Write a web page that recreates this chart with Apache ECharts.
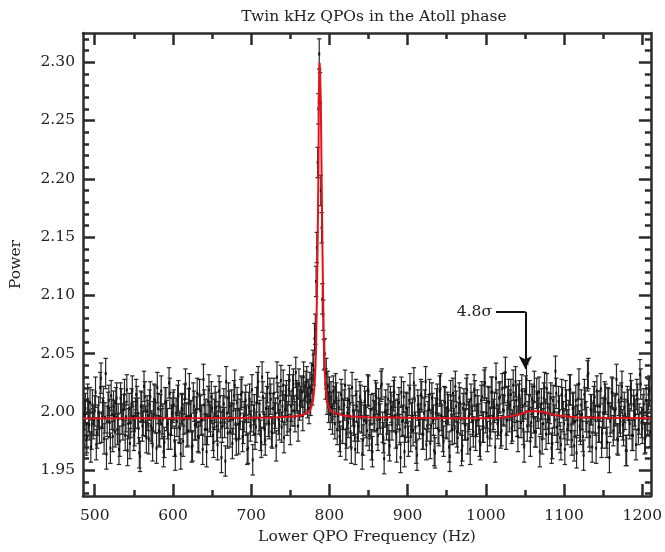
<!DOCTYPE html>
<html lang="en">

<head>
    <meta charset="UTF-8">
    <title>Twin kHz QPOs</title>
    <script src="https://cdn.jsdelivr.net/npm/echarts@6.0.0/dist/echarts.min.js"></script>
    <style>
        body { margin: 0; background: #fff; }
        #chart { width: 665px; height: 552px; }
    </style>
</head>

<body>
    <div id="chart"></div>
    <script>
        // tick positions
        var xTicks = [500, 600, 700, 800, 900, 1000, 1100, 1200];
        var xMinor = [550, 650, 750, 850, 950, 1050, 1150];
        var yTicks = [1.95, 2.00, 2.05, 2.10, 2.15, 2.20, 2.25, 2.30];
        var yMinor = [1.93, 1.94, 1.96, 1.97, 1.98, 1.99, 2.01, 2.02, 2.03, 2.04, 2.06, 2.07, 2.08, 2.09,
            2.11, 2.12, 2.13, 2.14, 2.16, 2.17, 2.18, 2.19, 2.21, 2.22, 2.23, 2.24, 2.26, 2.27, 2.28, 2.29, 2.31, 2.32];

        // measured power, chunks with their own start and bin step
        var leftStart = 486, leftStep = 2;
        var leftPower = [
            1.985, 2.003, 1.978, 1.996, 2.008, 1.981, 1.990, 2.001, 1.972, 1.993,
            1.986, 2.029, 1.999, 1.977, 2.033, 1.992, 2.010, 1.969, 1.998, 2.005,
            1.983, 2.012, 1.994, 1.975, 2.007, 1.989, 2.015, 1.996, 1.967, 2.003,
            1.991, 2.018, 1.980, 1.999, 2.009, 1.986, 1.962, 2.004, 1.993, 2.013,
            1.978, 1.997, 2.006, 1.988, 1.971, 2.011, 1.995, 2.021, 1.984, 2.002,
            1.990, 1.966, 2.008, 1.997, 1.981, 2.016, 1.993, 2.004, 1.975, 1.999,
            2.010, 1.987, 1.964, 2.002, 1.994, 2.024, 1.983, 2.007, 1.996, 1.970,
            2.012, 1.989, 2.000, 1.979, 2.015, 1.993, 1.968, 2.006, 1.998, 1.985,
            2.019, 1.992, 2.003, 1.974, 2.009, 1.988, 1.996, 2.013, 1.961, 2.001,
            1.991, 2.026, 1.982, 2.005, 1.995, 1.973, 2.014, 1.990, 2.008, 1.977,
            1.998, 2.017, 1.986, 2.004, 1.993, 1.969, 2.011, 1.996, 1.959, 2.002,
            1.987, 2.021, 1.994, 1.980, 2.030, 1.999, 1.976, 2.009, 1.992, 2.016,
            1.983, 2.003, 1.995, 1.971, 2.012, 1.989, 2.027, 2.005, 1.978, 2.010,
            1.993, 2.019, 1.985, 2.001, 2.024, 1.996, 2.014, 1.988, 2.006, 2.018,
            1.997, 2.011, 2.022, 2.008
        ];
        var leftOddStart = 487, leftOddStep = 2;
        var leftOddPower = [
            1.998, 1.976, 2.011, 1.989, 1.970, 2.006, 1.993, 2.017, 1.982, 2.000,
            2.021, 1.987, 2.009, 1.995, 1.964, 2.004, 1.991, 2.014, 1.979, 1.997,
            2.008, 1.985, 1.968, 2.012, 1.994, 2.002, 1.980, 2.019, 1.990, 1.973,
            2.007, 1.996, 1.984, 2.015, 1.999, 1.965, 2.005, 1.988, 2.022, 1.992,
            2.001, 1.977, 2.013, 1.986, 1.996, 2.010, 1.969, 2.003, 1.983, 2.018,
            1.994, 1.974, 2.008, 1.990, 2.025, 1.981, 1.999, 2.006, 1.963, 1.992,
            2.014, 1.986, 2.003, 1.975, 2.011, 1.995, 1.984, 2.020, 1.997, 1.971,
            2.005, 1.989, 2.016, 1.978, 2.001, 1.993, 2.028, 1.985, 1.966, 2.009,
            1.996, 2.013, 1.980, 1.998, 2.004, 1.972, 2.018, 1.991, 1.987, 2.007,
            1.958, 1.999, 2.012, 1.983, 2.006, 1.994, 2.023, 1.976, 2.002, 1.990,
            2.015, 1.979, 1.996, 2.010, 1.968, 2.004, 1.988, 2.019, 1.993, 1.981,
            2.008, 2.026, 1.997, 1.974, 2.013, 1.985, 2.003, 2.021, 1.990, 2.011,
            1.982, 2.016, 1.999, 2.030, 1.994, 2.009, 1.987, 2.023, 2.002, 2.014,
            1.996, 2.027, 2.005, 2.019, 2.001, 2.034, 2.012, 2.024, 2.009, 2.017,
            2.030, 2.013, 2.026
        ];
        var peakStart = 773, peakStep = 1;
        var peakPower = [
            2.015, 2.003, 2.021, 2.010, 2.029, 2.019, 2.040, 2.036, 2.063, 2.071,
            2.112, 2.141, 2.214, 2.260, 2.307, 2.278, 2.190, 2.158, 2.097, 2.083,
            2.049, 2.050, 2.024, 2.033, 2.011, 2.022, 2.004, 2.017, 1.998
        ];
        var rightStart = 802, rightStep = 2;
        var rightPower = [
            2.013, 1.994, 2.009, 2.020, 1.985, 2.004, 1.975, 2.011, 1.998, 2.023,
            1.982, 1.991, 2.007, 1.969, 2.001, 1.988, 2.015, 1.978, 1.996, 2.010,
            1.964, 1.993, 2.005, 1.984, 2.018, 1.990, 1.972, 2.003, 1.996, 2.012,
            1.980, 1.999, 2.022, 1.987, 1.960, 2.006, 1.994, 1.976, 2.009, 1.989,
            2.014, 1.997, 1.970, 2.002, 1.985, 2.017, 1.993, 1.966, 2.004, 1.991,
            2.010, 1.979, 1.998, 2.025, 1.987, 1.963, 2.001, 1.994, 2.013, 1.981,
            2.006, 1.972, 1.996, 2.015, 1.988, 2.003, 1.967, 1.999, 2.011, 1.984,
            2.020, 1.993, 1.975, 2.008, 1.990, 2.002, 1.962, 1.997, 2.016, 1.986,
            2.005, 1.978, 2.012, 1.994, 1.971, 2.007, 1.989, 2.019, 1.996, 1.968,
            2.004, 1.983, 2.014, 1.992, 2.001, 1.975, 2.010, 1.987, 2.023, 1.995,
            1.979, 2.008, 1.990, 2.017, 1.998, 1.970, 2.006, 1.993, 2.013, 1.984,
            2.002, 2.021, 1.981, 2.009, 1.996, 2.015, 1.988, 2.004, 2.026, 1.992,
            2.011, 1.999, 2.019, 1.985, 2.007, 2.028, 1.996, 2.014, 1.991, 2.009,
            2.022, 1.983, 2.005, 2.017, 1.994, 1.977, 2.012, 1.998, 2.020, 1.986,
            2.003, 1.969, 2.010, 1.993, 2.016, 1.981, 2.001, 1.972, 2.008, 1.990,
            2.014, 1.985, 1.997, 2.019, 1.976, 2.004, 1.992, 1.965, 2.011, 1.988,
            2.006, 1.979, 2.015, 1.996, 2.031, 1.983, 2.002, 1.970, 2.009, 1.993,
            2.018, 1.987, 2.005, 1.974, 1.999, 2.013, 1.982, 2.008, 1.961, 1.995,
            2.016, 1.989, 2.003, 1.977, 2.010, 1.992, 2.022, 1.984, 1.998, 1.967,
            2.006, 1.990, 2.014, 1.980, 2.001, 1.972, 2.011, 1.994, 2.024, 1.986,
            2.007, 1.978, 1.997, 2.015, 1.983
        ];
        var rightOddStart = 803, rightOddStep = 2;
        var rightOddPower = [
            2.004, 2.018, 1.990, 2.012, 1.997, 1.979, 2.015, 1.986, 2.006, 1.972,
            1.999, 2.010, 1.983, 2.021, 1.993, 1.968, 2.005, 1.988, 2.013, 1.995,
            1.976, 2.009, 1.991, 2.019, 1.980, 2.002, 1.966, 1.997, 2.014, 1.985,
            2.007, 1.994, 2.024, 1.978, 2.000, 1.989, 2.011, 1.971, 2.004, 1.996,
            2.017, 1.982, 1.998, 2.008, 1.961, 1.992, 2.013, 1.987, 2.003, 1.975,
            2.020, 1.995, 1.984, 2.010, 1.969, 2.006, 1.990, 2.015, 1.981, 1.999,
            2.026, 1.988, 2.002, 1.973, 2.012, 1.993, 1.965, 2.007, 1.986, 2.018,
            1.997, 1.979, 2.009, 1.991, 2.004, 1.970, 2.014, 1.985, 2.001, 2.022,
            1.983, 1.995, 2.008, 1.967, 2.003, 1.989, 2.016, 1.977, 1.998, 2.011,
            1.992, 2.019, 1.980, 2.006, 1.994, 1.972, 2.013, 1.987, 2.025, 1.999,
            2.009, 1.984, 2.017, 1.996, 2.004, 2.029, 1.990, 2.012, 1.982, 2.020,
            2.001, 2.034, 1.993, 2.015, 2.006, 1.986, 2.023, 1.997, 2.010, 1.979,
            2.014, 1.991, 2.005, 1.970, 2.018, 1.988, 2.002, 1.975, 2.011, 1.995,
            1.983, 2.016, 1.999, 1.966, 2.007, 1.990, 2.021, 1.981, 2.004, 1.994,
            2.012, 1.973, 2.000, 2.035, 1.987, 2.009, 1.978, 2.015, 1.996, 1.968,
            2.006, 1.989, 2.019, 1.983, 2.003, 1.971, 2.010, 1.993, 2.024, 1.985,
            1.998, 1.963, 2.008, 1.991, 2.033, 1.979, 2.002, 1.995, 2.013, 1.969,
            2.005, 1.987, 2.020, 1.982, 1.999, 2.011, 1.974, 2.007, 1.992, 2.017,
            1.984, 2.001, 2.028, 1.976, 1.995, 2.012, 1.989, 2.004, 1.967, 2.009,
            1.993, 2.020, 1.980, 2.006, 1.998, 2.015, 1.985, 2.032, 1.991, 2.002,
            1.977, 2.010, 1.994, 2.018
        ];
        var powerErr = 0.013;

        // fitted model (two Lorentzians on a flat level)
        var modelFreq = [485, 550, 600, 650, 700, 727, 737, 747, 757, 762, 767, 769, 771, 773, 774, 775, 776,
            777, 778, 779, 780, 781, 782, 783, 784, 785, 786, 786.5, 787, 787.5, 788, 789, 790, 791, 792, 793,
            794, 795, 796, 797, 798, 799, 800, 801, 803, 805, 807, 812, 817, 827, 847, 900, 950, 1000,
            1010, 1020, 1030, 1040, 1048, 1054, 1060, 1068, 1078, 1088, 1100, 1115, 1150, 1211];
        var modelPower = [1.9945, 1.9946, 1.9947, 1.9948, 1.9950, 1.9953, 1.9955, 1.9959, 1.9964, 1.9969,
            1.9977, 1.9983, 1.9990, 2.0001, 2.0008, 2.0017, 2.0027, 2.0043, 2.0065, 2.0098, 2.0149, 2.0227,
            2.0355, 2.0573, 2.0975, 2.1470, 2.2060, 2.2680, 2.2930, 2.2995, 2.2930, 2.2680, 2.2060, 2.1470,
            2.0975, 2.0573, 2.0355, 2.0227, 2.0149, 2.0098, 2.0065, 2.0043, 2.0027, 2.0017, 2.0008, 1.9997,
            1.9988, 1.9982, 1.9971, 1.9964, 1.9956, 1.9950, 1.9947, 1.9946, 1.9948, 1.9953, 1.9961, 1.9974,
            1.9992, 2.0004, 2.0008, 2.0005, 1.9993, 1.9975, 1.9963, 1.9955, 1.9950, 1.9947, 1.9946];

        // annotation for the weak upper peak
        var sigmaText = '4.8σ';
        var arrowStart = [1013, 2.086];
        var arrowCorner = [1050.5, 2.086];
        var arrowTip = [1050.5, 2.037];

        var points = [];
        function addChunk(start, step, arr) {
            for (var i = 0; i < arr.length; i++) {
                points.push([start + i * step, arr[i], powerErr]);
            }
        }
        addChunk(leftStart, leftStep, leftPower);
        addChunk(leftOddStart, leftOddStep, leftOddPower);
        addChunk(peakStart, peakStep, peakPower);
        addChunk(rightStart, rightStep, rightPower);
        addChunk(rightOddStart, rightOddStep, rightOddPower);

        var modelData = modelFreq.map(function (f, i) { return [f, modelPower[i]]; });

        var font = 'DejaVu Serif';
        var ink = '#2b2b2b';

        function xAxisOf(pos, ticks, len, showLine, showLabel) {
            return {
                type: 'value', gridIndex: 0, position: pos, min: 485, max: 1211,
                axisLine: { show: showLine, onZero: false, lineStyle: { color: ink, width: 2.5 } },
                axisTick: { show: true, inside: true, length: len, customValues: ticks, lineStyle: { color: ink, width: 2.5 } },
                axisLabel: showLabel ? {
                    customValues: xTicks, color: '#222', fontFamily: font, fontSize: 15.5, margin: 12,
                    formatter: function (v) { return String(v); }
                } : { show: false },
                splitLine: { show: false }
            };
        }
        function yAxisOf(pos, ticks, len, showLine, showLabel) {
            return {
                type: 'value', gridIndex: 0, position: pos, min: 1.928, max: 2.325,
                axisLine: { show: showLine, onZero: false, lineStyle: { color: ink, width: 2.5 } },
                axisTick: { show: true, inside: true, length: len, customValues: ticks, lineStyle: { color: ink, width: 2.5 } },
                axisLabel: showLabel ? {
                    customValues: yTicks, color: '#222', fontFamily: font, fontSize: 15.5, margin: 8,
                    formatter: function (v) { return v.toFixed(2); }
                } : { show: false },
                splitLine: { show: false }
            };
        }

        var xMain = xAxisOf('bottom', xTicks, 12, true, true);
        xMain.name = 'Lower QPO Frequency (Hz)';
        xMain.nameLocation = 'middle';
        xMain.nameGap = 32;
        xMain.nameTextStyle = { color: '#222', fontFamily: font, fontSize: 15.5 };
        var yMain = yAxisOf('left', yTicks, 12, true, true);
        yMain.name = 'Power';
        yMain.nameLocation = 'middle';
        yMain.nameGap = 59;
        yMain.nameTextStyle = { color: '#222', fontFamily: font, fontSize: 15.5 };

        var chart = echarts.init(document.getElementById('chart'));
        chart.setOption({
            backgroundColor: '#fff',
            animation: false,
            title: {
                text: 'Twin kHz QPOs in the Atoll phase',
                left: 369,
                textAlign: 'center',
                top: 4,
                textStyle: { color: '#222', fontFamily: font, fontSize: 15.5, fontWeight: 'normal' }
            },
            grid: { left: 83, top: 33, width: 572, height: 463 },
            xAxis: [
                xMain,
                xAxisOf('top', xTicks, 12, true, false),
                xAxisOf('bottom', xMinor, 6, false, false),
                xAxisOf('top', xMinor, 6, false, false)
            ],
            yAxis: [
                yMain,
                yAxisOf('right', yTicks, 12, true, false),
                yAxisOf('left', yMinor, 6, false, false),
                yAxisOf('right', yMinor, 6, false, false)
            ],
            series: [
                {
                    type: 'custom',
                    xAxisIndex: 0,
                    yAxisIndex: 0,
                    clip: true,
                    data: points,
                    renderItem: function (params, api) {
                        var f = api.value(0), p = api.value(1), e = api.value(2);
                        var hi = api.coord([f, p + e]);
                        var lo = api.coord([f, p - e]);
                        var mid = api.coord([f, p]);
                        var st = { stroke: '#262626', lineWidth: 1.2 };
                        return {
                            type: 'group',
                            children: [
                                { type: 'line', shape: { x1: hi[0], y1: hi[1], x2: lo[0], y2: lo[1] }, style: st },
                                { type: 'line', shape: { x1: hi[0] - 2.2, y1: hi[1], x2: hi[0] + 2.2, y2: hi[1] }, style: st },
                                { type: 'line', shape: { x1: lo[0] - 2.2, y1: lo[1], x2: lo[0] + 2.2, y2: lo[1] }, style: st },
                                { type: 'rect', shape: { x: mid[0] - 1, y: mid[1] - 1.5, width: 2, height: 3 }, style: { fill: '#111' } }
                            ]
                        };
                    }
                },
                {
                    type: 'line',
                    xAxisIndex: 0,
                    yAxisIndex: 0,
                    data: modelData,
                    showSymbol: false,
                    lineStyle: { color: '#e3121b', width: 2 },
                    z: 5,
                    markLine: {
                        silent: true,
                        animation: false,
                        lineStyle: { color: '#111', width: 2, type: 'solid' },
                        label: { show: false },
                        data: [
                            [
                                {
                                    coord: arrowStart, symbol: 'none',
                                    label: { show: true, position: 'start', formatter: sigmaText, distance: 4, color: '#222', fontFamily: font, fontSize: 15.5 }
                                },
                                { coord: arrowCorner, symbol: 'none' }
                            ],
                            [
                                { coord: arrowCorner, symbol: 'none' },
                                { coord: arrowTip, symbol: 'arrow', symbolSize: [10, 13] }
                            ]
                        ]
                    }
                }
            ]
        });
    </script>
</body>

</html>
